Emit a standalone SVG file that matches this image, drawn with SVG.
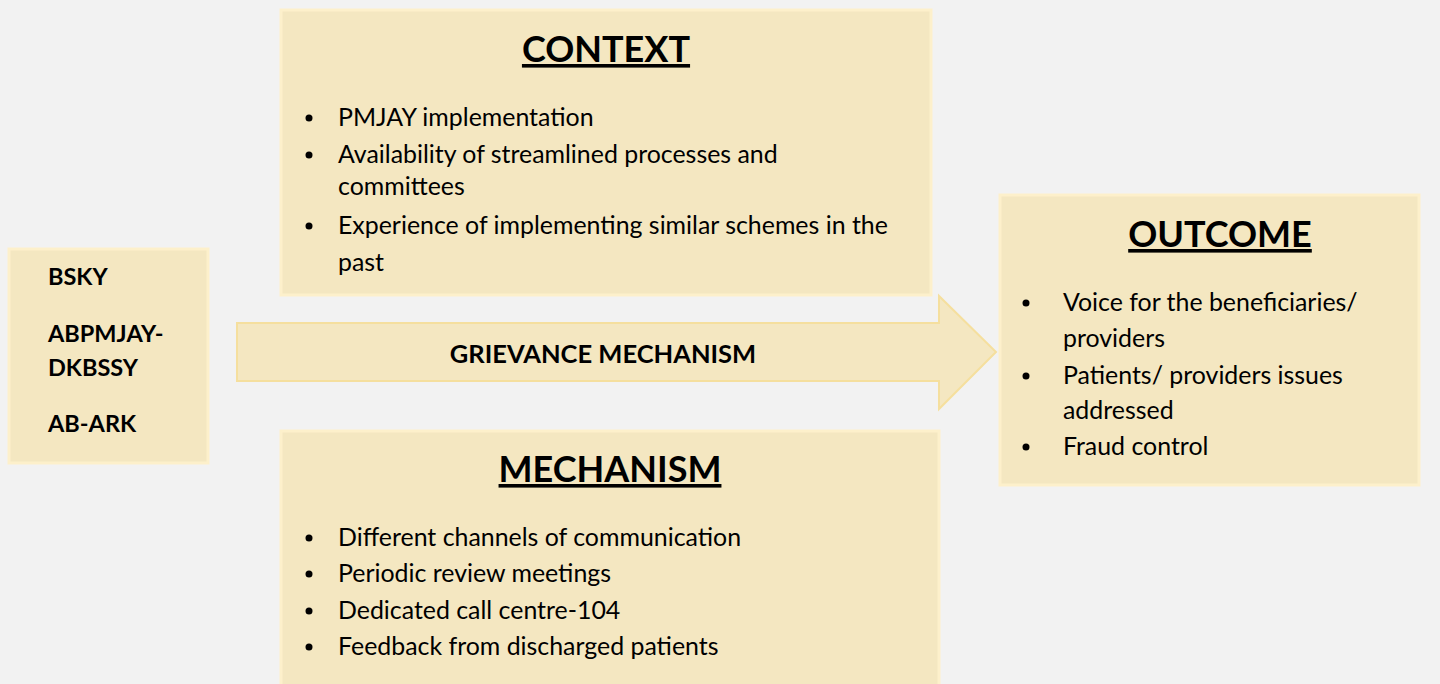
<svg xmlns="http://www.w3.org/2000/svg" width="1440" height="684" viewBox="0 0 1440 684">
<style>
.box{fill:#f4e7c1;stroke:#fdf0cb;stroke-width:3}
.arr{fill:#f4e7c1;stroke:#f5df9e;stroke-width:2}
.t{font-family:Lato,"Open Sans",sans-serif;font-size:24.9px;fill:#000}
.b{font-family:Lato,"Open Sans",sans-serif;font-size:23.5px;font-weight:bold;fill:#000}
.g{font-family:Lato,"Open Sans",sans-serif;font-size:25.5px;font-weight:bold;fill:#000}
.h{font-family:Lato,"Open Sans",sans-serif;font-size:36px;font-weight:bold;fill:#000;text-anchor:middle;text-decoration:underline}
</style>
<rect width="1440" height="684" fill="#f2f2f2"/>
<g id="schemes">
<rect class="box" x="9" y="249" width="199" height="214"/>
<text class="b" x="48" y="285">BSKY</text>
<text class="b" x="48" y="342">ABPMJAY-</text>
<text class="b" x="48" y="376">DKBSSY</text>
<text class="b" x="48" y="432">AB-ARK</text>
</g>
<g id="connectors">
<g id="grievance">
<path class="arr" d="M237,323 H939 V296 L996,352 L939,409 V381 H237 Z"/>
<text class="g" x="603" y="363" text-anchor="middle">GRIEVANCE MECHANISM</text>
</g>
</g>
<g id="context">
<rect class="box" x="281" y="10" width="650" height="285"/>
<text class="h" x="606" y="62">CONTEXT</text>
<circle cx="309" cy="118" r="3.5"/>
<text class="t" x="338" y="126">PMJAY implementation</text>
<circle cx="309" cy="155" r="3.5"/>
<text class="t" x="338" y="163">Availability of streamlined processes and</text>
<text class="t" x="338" y="195">committees</text>
<circle cx="309" cy="226" r="3.5"/>
<text class="t" x="338" y="234">Experience of implementing similar schemes in the</text>
<text class="t" x="338" y="271">past</text>
</g>
<g id="mechanism">
<rect class="box" x="281" y="431" width="658" height="260"/>
<text class="h" x="610" y="482">MECHANISM</text>
<circle cx="309" cy="538" r="3.5"/>
<text class="t" x="338" y="546">Different channels of communication</text>
<circle cx="309" cy="574" r="3.5"/>
<text class="t" x="338" y="582">Periodic review meetings</text>
<circle cx="309" cy="611" r="3.5"/>
<text class="t" x="338" y="619">Dedicated call centre-104</text>
<circle cx="309" cy="647" r="3.5"/>
<text class="t" x="338" y="655">Feedback from discharged patients</text>
</g>
<g id="outcome">
<rect class="box" x="1000" y="195" width="419" height="290"/>
<text class="h" x="1220" y="247">OUTCOME</text>
<circle cx="1026" cy="303" r="3.5"/>
<text class="t" x="1063" y="311">Voice for the beneficiaries/</text>
<text class="t" x="1063" y="347">providers</text>
<circle cx="1026" cy="376" r="3.5"/>
<text class="t" x="1063" y="384">Patients/ providers issues</text>
<text class="t" x="1063" y="419">addressed</text>
<circle cx="1026" cy="447" r="3.5"/>
<text class="t" x="1063" y="455">Fraud control</text>
</g>
</svg>
